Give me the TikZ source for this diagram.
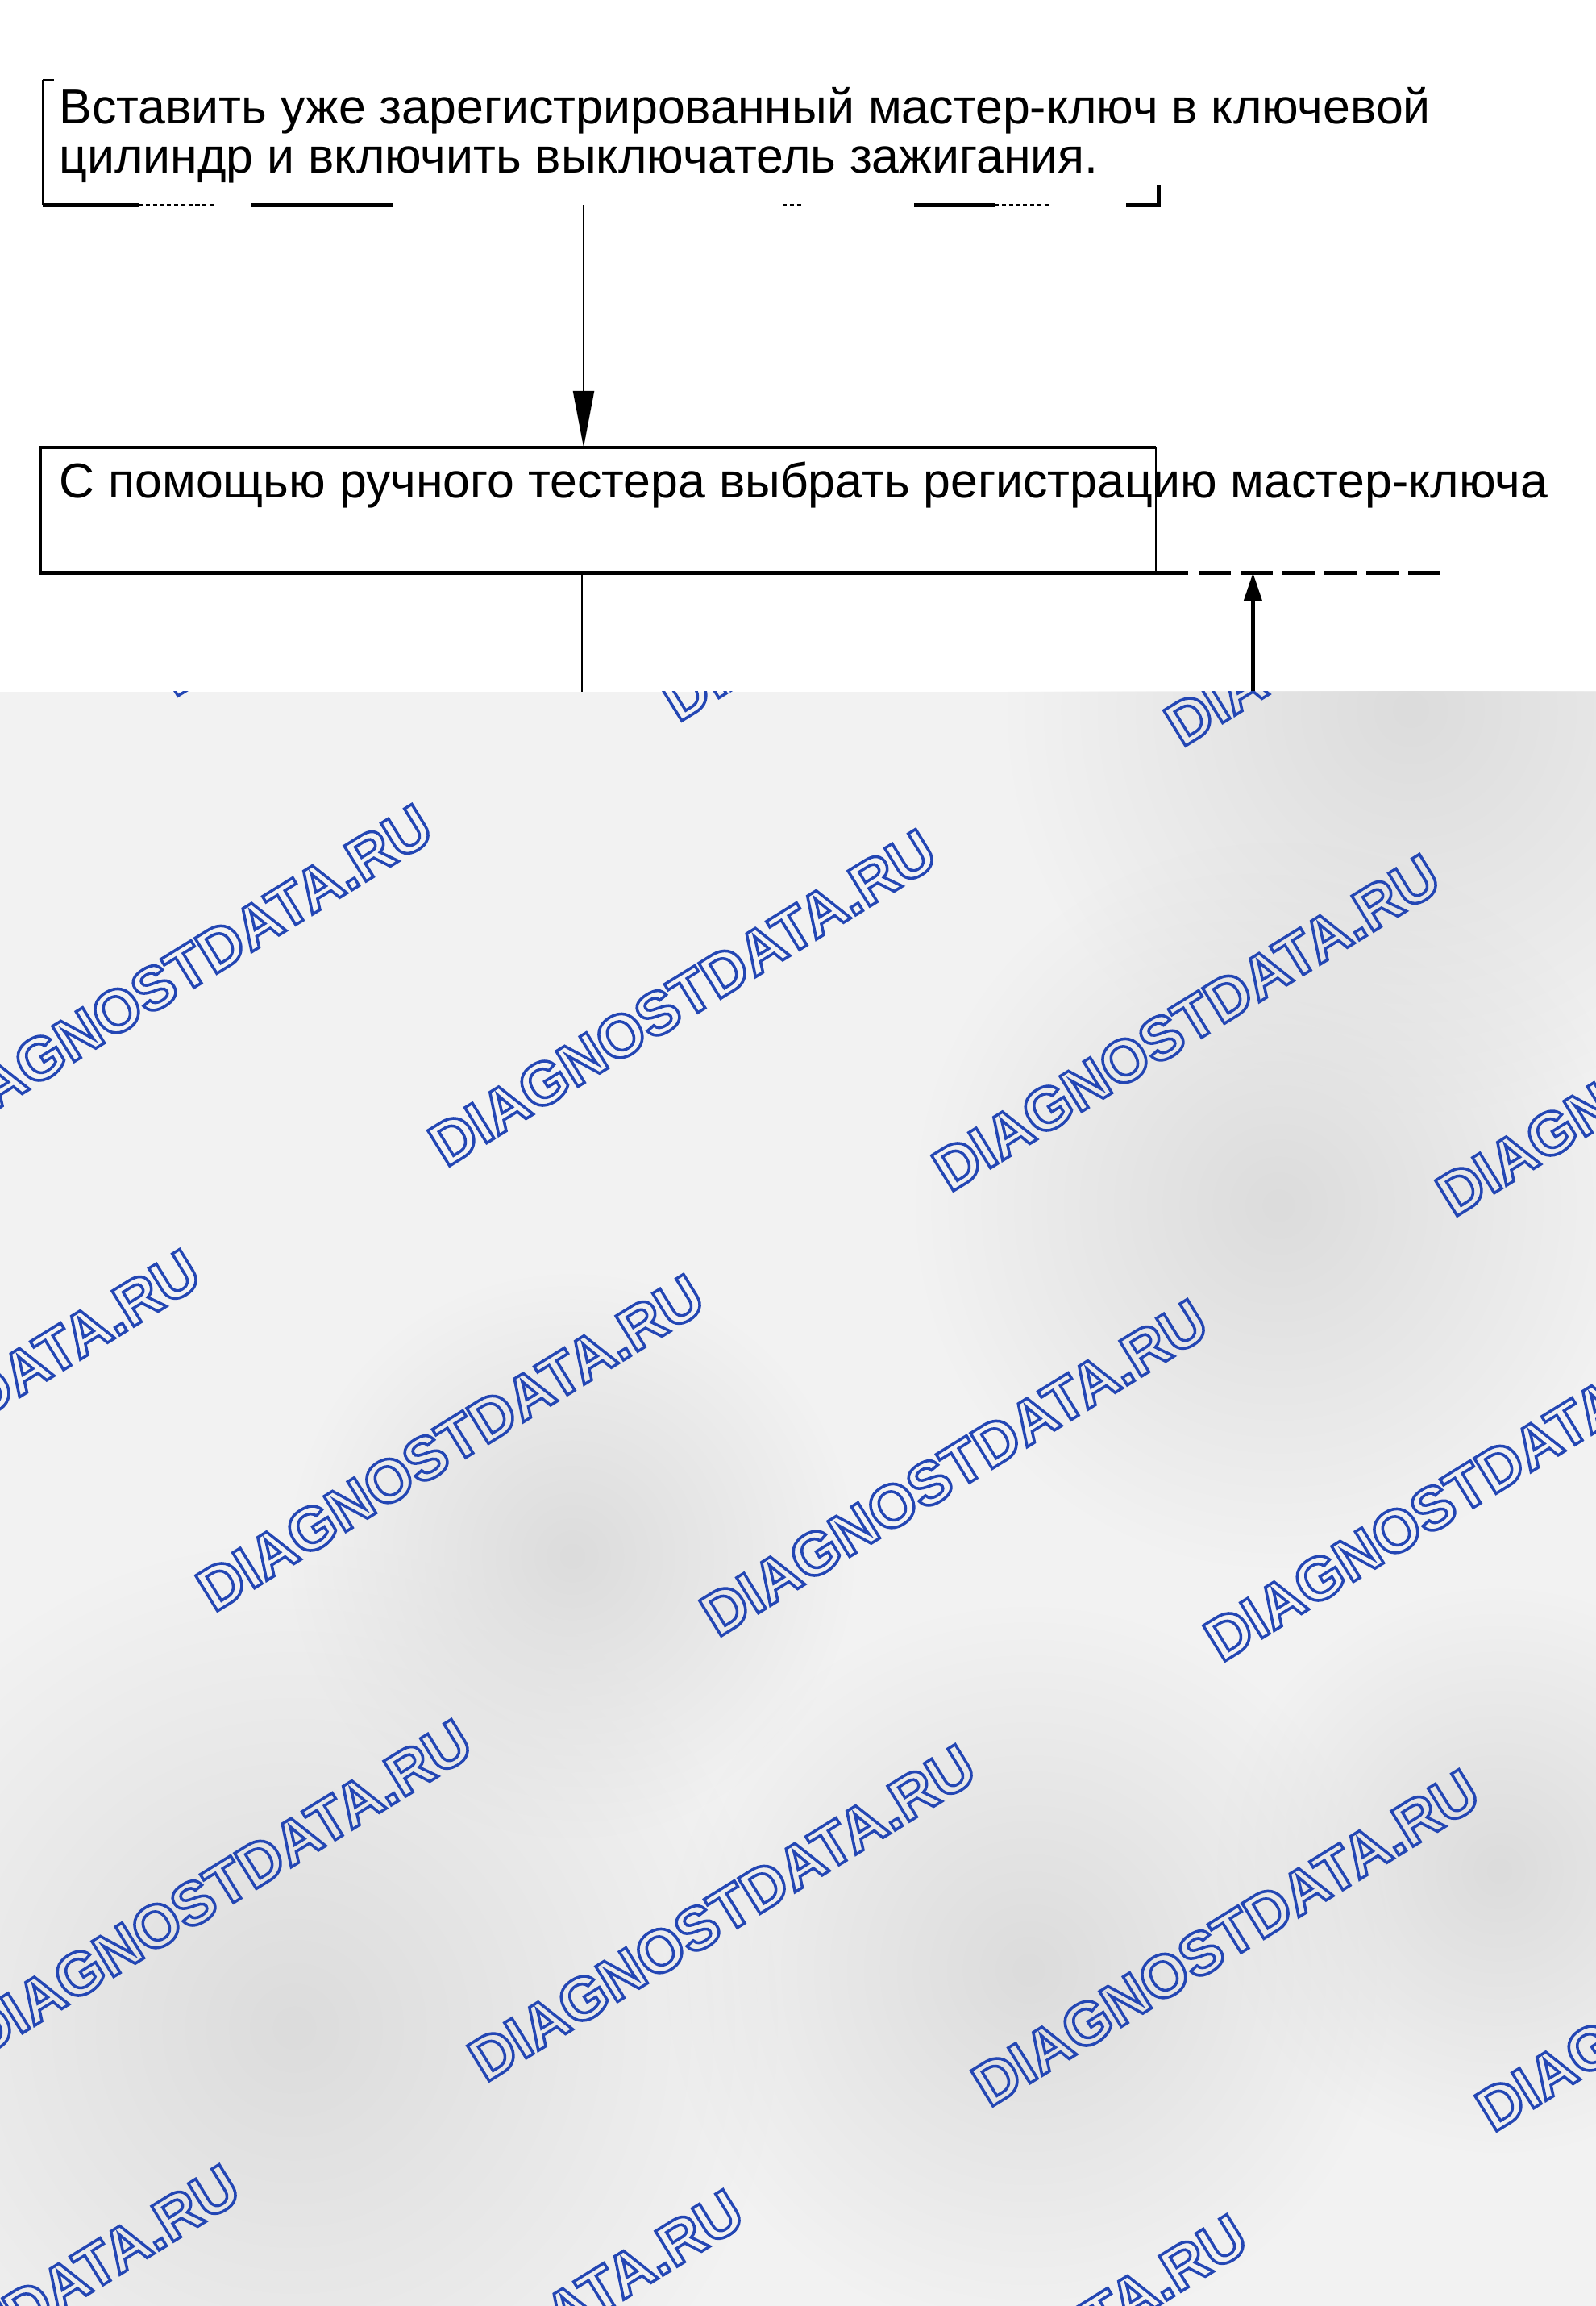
\documentclass[tikz,border=0pt]{standalone}
\usepackage{fontspec}
\setmainfont{Liberation Sans}
\usetikzlibrary{arrows.meta,positioning,fadings}
\definecolor{wmblue}{RGB}{35,70,180}
\definecolor{fogbase}{RGB}{242,242,242}
\definecolor{fogdark}{RGB}{220,220,220}
\tikzfading[name=fogfade, inner color=transparent!0, outer color=transparent!100]
\newcommand{\wmark}{\special{pdf:literal direct 1.0 w 1 Tr}DIAGNOSTDATA.RU\special{pdf:literal direct 0 Tr}}
\tikzset{
  steptext/.style={font=\fontsize{17.3pt}{17.6pt}\selectfont, inner sep=0pt, align=left, anchor=base west},
  framebox/.style={minimum width=13.83cm, minimum height=1.54cm, inner sep=0pt, anchor=north west},
  thinline/.style={line width=0.6pt},
  heavyline/.style={line width=1.3pt},
  brokenline/.style={line width=0.5pt, dash pattern=on 1.5pt off 1pt},
  fogblob/.style={fill=fogdark, path fading=fogfade},
  wmtext/.style={font=\fontsize{21.3pt}{21.3pt}\selectfont\bfseries, text=wmblue, inner sep=0pt, anchor=base west, rotate=31.7}
}
\begin{document}
\begin{tikzpicture}
\useasboundingbox (0,0) rectangle (19.8,28.6);
\fill[white] (0,0) rectangle (19.8,28.6);
\node [framebox] (insert) at (0.53,27.61) {};
\node [framebox] (select) at (0.50,23.05) {};
\node [steptext] (insert text) at (0.73,26.45) {Вставить уже зарегистрированный мастер-ключ в ключевой\\цилиндр и включить выключатель зажигания.};
\node [steptext] (select text) at (0.73,22.42) {С помощью ручного тестера выбрать регистрацию мастер-ключа};
\draw [thinline] (insert.north west) -- (insert.south west);
\draw [thinline] (insert.north west) -- ++(0.14,0);
\draw [heavyline] (insert.south west) -- ++(1.19,0);
\draw [brokenline] ([xshift=1.19cm]insert.south west) -- ++(0.96,0);
\draw [heavyline] ([xshift=2.58cm]insert.south west) -- ++(1.77,0);
\draw [brokenline] ([xshift=9.18cm]insert.south west) -- ++(0.24,0);
\draw [heavyline] ([xshift=10.81cm]insert.south west) -- ++(1.0,0);
\draw [brokenline] ([xshift=11.81cm]insert.south west) -- ++(0.67,0);
\draw [heavyline] ([xshift=-0.40cm]insert.south east) -- (insert.south east) -- ++(0,0.25);
\draw [thinline] [-{Triangle[length=7mm,width=2.6mm]}] ([xshift=6.71cm]insert.south west) -- ([xshift=6.74cm]select.north west);
\draw [heavyline] (select.north east) -- (select.north west) -- (select.south west) -- (select.south east);
\draw [thinline] (select.north east) -- (select.south east);
\draw [heavyline] (select.south east) -- ++(0.40,0);
\draw [heavyline] [dash pattern=on 4mm off 1.2mm] ([xshift=0.53cm]select.south east) -- ++(3.04,0);
\draw [thinline] ([xshift=6.72cm]select.south west) -- ++(0,-3);
\coordinate (loop) at ([xshift=1.20cm]select.south east);
\draw [heavyline] [-{Triangle[length=3.5mm,width=2.2mm]}] ([yshift=-3cm]loop) -- (loop);
\begin{scope}
\clip (0,0) rectangle (19.8,20.02);
\fill [fogbase] (0,0) rectangle (19.8,20.02);
\fill [fogblob] (17.5,19.8) circle (5);
\fill [fogblob] (3.65,3.45) circle (6);
\fill [fogblob] (7.1,9.3) circle (3.5);
\fill [fogblob] (15.86,13.65) circle (4.5);
\fill [fogblob] (12.76,4.17) circle (4.5);
\fill [fogblob] (18.6,5.4) circle (3.5);
\foreach \j in {-1,...,3}
  \foreach \i in {-4,...,3}
    \node [wmtext] (wm-\i-\j) at ({5.53+6.25*\i+3.37*\j},{14.11-0.31*\i-5.83*\j}) {\wmark};
\end{scope}
\end{tikzpicture}
\end{document}
